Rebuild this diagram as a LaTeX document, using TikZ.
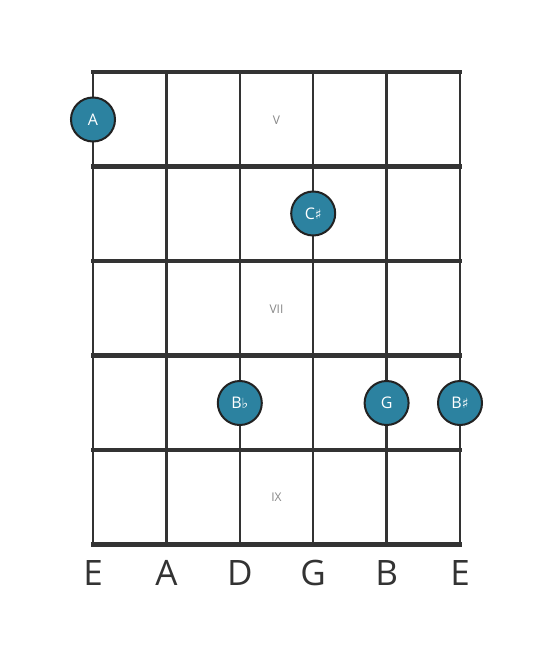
\documentclass[tikz,border=0pt]{standalone}
\usepackage{fontspec}
\setmainfont{Open Sans}
\newfontfamily\symfont{DejaVu Sans}
\definecolor{linec}{HTML}{333333}
\definecolor{notefill}{HTML}{2C82A0}
\definecolor{noteedge}{HTML}{222222}
\definecolor{fretlab}{HTML}{888888}
\begin{document}
\begin{tikzpicture}[x=1pt,y=-1pt,
  fretline/.style={draw=linec,line width=4.5pt},
  stringline/.style={draw=linec,line width=2.3pt},
  note/.style={circle,fill=notefill,draw=noteedge,line width=2pt,minimum size=44pt,inner sep=0pt,text=white,font=\fontsize{16}{16}\selectfont},
  fretnum/.style={text=fretlab,font=\fontsize{12}{12}\selectfont},
  strname/.style={text=linec,font=\fontsize{35}{35}\selectfont}]
\useasboundingbox (0,0) rectangle (553,656);
\fill[white] (0,0) rectangle (553,656);
% strings
\foreach \i/\x in {1/93,2/166.4,3/239.8,4/313.2,5/386.6,6/460}{
  \coordinate (st\i) at (\x,72);
  \coordinate (sb\i) at (\x,544.5);
  \draw[stringline] (st\i) -- (sb\i);
}
% frets
\foreach \j/\y in {0/72,1/166.5,2/261,3/355.5,4/450,5/544.5}{
  \coordinate (fl\j) at (93,\y);
  \coordinate (fr\j) at (460,\y);
  \draw[fretline,line cap=rect] (fl\j) -- (fr\j);
}
% fret numbers
\node[fretnum] (f5) at (276.5,120) {V};
\node[fretnum] (f7) at (276.5,309) {VII};
\node[fretnum] (f9) at (276.5,497) {IX};
% notes
\node[note] (nA) at (93,119.5) {A};
\node[note] (nC) at (313.2,213.5) {C{\symfont\fontsize{14}{14}\selectfont♯}};
\node[note] (nBb) at (239.8,403) {B{\symfont\fontsize{14}{14}\selectfont♭}};
\node[note] (nG) at (386.6,403) {G};
\node[note] (nBs) at (460,403) {B{\symfont\fontsize{14}{14}\selectfont♯}};
% string names
\foreach \i/\x/\n in {1/93/E,2/166.4/A,3/239.8/D,4/313.2/G,5/386.6/B,6/460/E}{
  \node[strname] (sn\i) at (\x,573) {\n};
}
\end{tikzpicture}
\end{document}
